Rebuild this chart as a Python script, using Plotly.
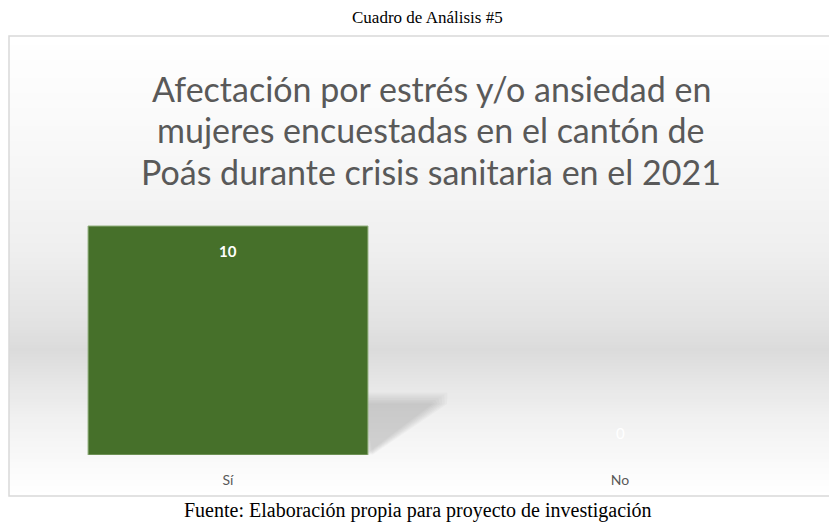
import plotly.graph_objects as go

# datos
categorias = ["Sí", "No"]
valores = [10, 0]

titulo_lineas = [
    "Afectación por estrés y/o ansiedad en",
    "mujeres encuestadas en el cantón de",
    "Poás durante crisis sanitaria en el 2021",
]
cuadro = "Cuadro de Análisis #5"
fuente = "Fuente: Elaboración propia para proyecto de investigación"

# la página tiene 8px de margen, así que la figura se reduce y se compensa
W, H = 837, 525
OFF = 8
FW, FH = W - OFF, H - OFF


def px(x):
    return (x - OFF) / FW


def py(y):
    return 1 - (y - OFF) / FH


X_DOM = [px(32), px(816)]
Y_DOM = [py(455), py(180.2)]
BARGAP = 0.286

fig = go.Figure()

fig.add_trace(go.Bar(
    x=categorias,
    y=valores,
    marker=dict(color="#46702a",
                line=dict(color="#93b07e", width=[1 if v > 0 else 0 for v in valores])),
    hoverinfo="x+y",
))

shapes = []

# fondo degradado del área del gráfico
stops = [(36, 255), (150, 248), (250, 239), (320, 227), (350, 219),
         (375, 228), (420, 241), (460, 249), (496, 255)]
y = 36
paso = 3
while y < 496:
    yc = y + paso / 2
    for (a, ga), (b, gb) in zip(stops[:-1], stops[1:]):
        if a <= yc <= b:
            g = int(round(ga + (gb - ga) * (yc - a) / (b - a)))
            break
    shapes.append(dict(type="rect", xref="paper", yref="paper", layer="below",
                       x0=px(9), x1=1.02, y0=py(min(y + paso, 496)), y1=py(y),
                       fillcolor=f"rgb({g},{g},{g})", line=dict(width=0)))
    y += paso

# sombra de la barra (capas para simular el difuminado)
ancho_cat = (X_DOM[1] - X_DOM[0]) * W / len(categorias)
borde_der = X_DOM[0] * W + ancho_cat * 0.5 + ancho_cat * (1 - BARGAP) / 2
for exp in [12, 9, 6, 3, 0, -3, -6]:
    p = [(borde_der, 400 - exp * 0.6), (borde_der + 72 + exp, 400 - exp * 0.6),
         (borde_der + 74 + exp * 0.8, 404),
         (borde_der + 4 + exp * 0.4, 455)]
    path = "M " + " L ".join(f"{px(a)},{py(b)}" for a, b in p) + " Z"
    shapes.append(dict(type="path", xref="paper", yref="paper", layer="below",
                       path=path, fillcolor="rgba(80,80,80,0.035)", line=dict(width=0)))

# borde del gráfico
shapes.append(dict(type="rect", xref="paper", yref="paper",
                   x0=px(9), x1=1.02, y0=py(496), y1=py(36),
                   line=dict(color="#d9d9d9", width=1.5)))

annotations = []
for i, linea in enumerate(titulo_lineas):
    annotations.append(dict(text=linea, xref="paper", yref="paper", x=px(431),
                            y=py(88 + 41.5 * i), showarrow=False, xanchor="center",
                            yanchor="middle",
                            font=dict(family="Lato", size=34, color="#595959")))

for c, v in zip(categorias, valores):
    annotations.append(dict(text=f"<b>{v}</b>" if v > 0 else f"{v}", x=c, y=v,
                            xref="x", yref="y", showarrow=False,
                            yshift=-25 if v > 0 else 22,
                            font=dict(family="Lato", size=15, color="#ffffff")))

annotations.append(dict(text=cuadro, xref="paper", yref="paper", x=px(427), y=py(17),
                        showarrow=False, xanchor="center", yanchor="middle",
                        font=dict(family="Liberation Serif", size=17, color="#000000")))
annotations.append(dict(text=fuente, xref="paper", yref="paper", x=px(418), y=py(510),
                        showarrow=False, xanchor="center", yanchor="middle",
                        font=dict(family="Liberation Serif", size=20, color="#000000")))

fig.update_layout(
    width=FW,
    height=FH,
    margin=dict(l=0, r=0, t=0, b=0),
    paper_bgcolor="#ffffff",
    plot_bgcolor="rgba(0,0,0,0)",
    showlegend=False,
    bargap=BARGAP,
    shapes=shapes,
    annotations=annotations,
    xaxis=dict(domain=X_DOM, showgrid=False, zeroline=False, showline=False,
               ticks="outside", ticklen=12, tickcolor="rgba(0,0,0,0)",
               tickfont=dict(family="Lato", size=14, color="#595959")),
    yaxis=dict(domain=Y_DOM, range=[0, 12], visible=False),
)

fig.write_html("out.html")
